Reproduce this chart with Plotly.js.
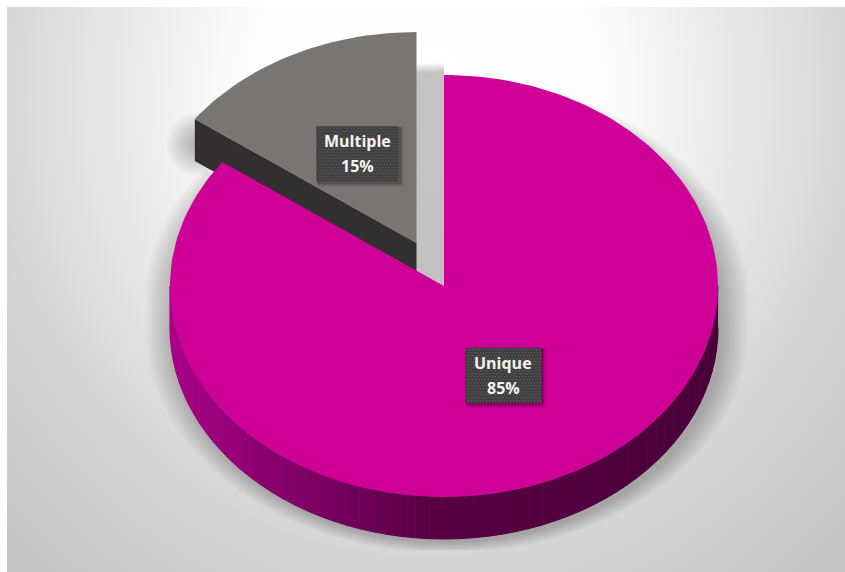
<!DOCTYPE html>
<html>
<head>
<meta charset="utf-8">
<script src="https://cdn.plot.ly/plotly-3.0.1.min.js"></script>
<style>
  html, body { margin: 0; padding: 0; background: #fff; width: 845px; height: 572px; overflow: hidden; }
  #backdrop {
    position: absolute; left: 7px; top: 7px; width: 838px; height: 565px;
    background: radial-gradient(ellipse 600px 640px at 418px 93px,
      #ffffff 0%, #fdfdfd 30%, #d5d5d5 72%, #c4c4c4 100%);
  }
  #chart { position: absolute; left: 0; top: 0; width: 845px; height: 572px; }
</style>
</head>
<body>
<div id="backdrop"></div>
<div id="chart"></div>
<script>
// Share of records by match type
const categories = ['Unique', 'Multiple'];
const shares = [85, 15];

// Ellipse geometry of the tilted disc, in screen pixels
const RX = 274, RY = 211, CX = 444, CY = 286, DEPTH_PX = 42;
const FRAME = { left: 7, right: 845, top: 7, bottom: 550 };
// The axes are scaled so the disc has radius 1 in data units
const sx = px => px / RX;
const sy = px => px / RY;
const DEPTH = sy(DEPTH_PX);
const PULL = { Multiple: [sx(-27.5), sy(43)], Unique: [0, 0] };
const LABEL_R = 0.475;

const TOP_COLORS = { Unique: '#cf0098', Multiple: '#787574' };
const CUT_COLOR = { Multiple: '#312f2f' };
const WALL_STOPS = [[-1, [170, 0, 135]], [-0.55, [130, 0, 104]], [-0.05, [88, 0, 66]], [1, [74, 0, 56]]];

const toRad = d => d * Math.PI / 180;
const pt = (deg, r = 1, ox = 0, oy = 0) => [ox + r * Math.sin(toRad(deg)), oy + r * Math.cos(toRad(deg))];

function wallColor(u) {
  for (let i = 1; i < WALL_STOPS.length; i++) {
    const [a, ca] = WALL_STOPS[i - 1], [b, cb] = WALL_STOPS[i];
    if (u <= b) {
      const t = Math.max(0, (u - a) / (b - a));
      return 'rgb(' + ca.map((c, k) => Math.round(c + (cb[k] - c) * t)).join(',') + ')';
    }
  }
  return 'rgb(74,0,56)';
}

function poly(points, color, lineColor) {
  return {
    type: 'scatter', mode: 'lines', x: points.map(p => p[0]), y: points.map(p => p[1]),
    fill: 'toself', fillcolor: color, hoverinfo: 'skip',
    line: { width: lineColor ? 1 : 0, color: lineColor || color }
  };
}

function arc(a0, a1, r, ox, oy, step = 1.5) {
  const out = [];
  const n = Math.max(2, Math.ceil(Math.abs(a1 - a0) / step));
  for (let i = 0; i <= n; i++) out.push(pt(a0 + (a1 - a0) * i / n, r, ox, oy));
  return out;
}

// Angular span of each slice, clockwise from twelve o'clock
const total = shares.reduce((a, b) => a + b, 0);
let running = 0;
const slices = categories.map((name, i) => {
  const a0 = running / total * 360;
  running += shares[i];
  return { name, share: shares[i], a0, a1: running / total * 360 };
});
const main = slices[0], pulled = slices[1];

const traces = [];

// Soft drop shadow under the main slice: stacked translucent outlines
function discShadow(grow) {
  const pts = [];
  const ex = sx(grow), top = sy(grow * 0.42), low = sy(grow * 0.44);
  for (let d = main.a0; d <= main.a1; d += 3) {
    const s = Math.sin(toRad(d)), c = Math.cos(toRad(d));
    const front = c < 0;
    pts.push([sx(3) + (1 + ex) * s,
      (front ? -DEPTH - sy(2) : -sy(14)) + (front ? 1 + low : 1 + top) * c]);
  }
  pts.push([sx(3), -sy(14)]);
  return pts;
}
for (let g = 28; g >= 1; g -= 1) traces.push(poly(discShadow(g), 'rgba(60,60,60,0.0125)'));

// Shadow left in the gap where the pulled slice used to sit
for (let k = 0; k < 6; k++) {
  const r = 1.055 - k * 0.008;
  traces.push(poly([[0, 0], ...arc(main.a1, 360, r, 0, 0)], 'rgba(40,40,40,0.05)'));
}

// Blurred shadow beside the outer corner of the pulled slice
const [px, py] = PULL.Multiple;
const rim = pt(pulled.a0, 1, px, py);
for (let g = 32; g >= 2; g -= 2) {
  const blob = [];
  for (let d = 0; d < 360; d += 10) {
    blob.push([rim[0] + sx(4) + sx(g) * Math.sin(toRad(d)),
      rim[1] - DEPTH * 0.6 + sy(g) * Math.cos(toRad(d))]);
  }
  traces.push(poly(blob, 'rgba(30,30,30,0.022)'));
}

// Pulled slice: cut face, then top
traces.push(poly([[px, py], rim, [rim[0], rim[1] - DEPTH], [px, py - DEPTH]], CUT_COLOR.Multiple));
traces.push(poly([[px, py], ...arc(pulled.a0, pulled.a1, 1, px, py)], TOP_COLORS.Multiple));

// Main slice: outer wall in narrow shaded bands from the right rim to the left rim
for (let d = 90; d < 270; d += 3) {
  const a = pt(d), b = pt(d + 3);
  const c = wallColor((a[0] + b[0]) / 2);
  traces.push(poly([a, b, [b[0], b[1] - DEPTH], [a[0], a[1] - DEPTH]], c, c));
}
traces.push(poly([[0, 0], ...arc(main.a0, main.a1, 1, 0, 0)], TOP_COLORS.Unique));

// Label plates with a dotted texture and a small shadow
const PLATE = { Unique: [76, 55], Multiple: [82, 55] };
const annotations = [];
slices.forEach(s => {
  const mid = (s.a0 + s.a1) / 2;
  const [ox, oy] = PULL[s.name];
  const c = pt(mid, LABEL_R, ox, oy);
  const [w, h] = PLATE[s.name];
  const hw = sx(w / 2), hh = sy(h / 2);
  const rect = (dx, dy, gx, gy) => [
    [c[0] - hw + sx(dx - gx), c[1] - hh - sy(dy + gy)], [c[0] + hw + sx(dx + gx), c[1] - hh - sy(dy + gy)],
    [c[0] + hw + sx(dx + gx), c[1] + hh - sy(dy - gy)], [c[0] - hw + sx(dx - gx), c[1] + hh - sy(dy - gy)]
  ];
  traces.push(poly(rect(3, 3, 2, 2), 'rgba(0,0,0,0.12)'));
  traces.push(poly(rect(2, 2, 1, 1), 'rgba(0,0,0,0.2)'));
  traces.push(poly(rect(0, 0, 0, 0), '#3f3f3f'));
  const dx = [], dy = [];
  for (let i = 2; i < w; i += 3) for (let j = 2; j < h; j += 3) {
    dx.push(c[0] - hw + sx(i + (j % 2 ? 1.5 : 0)));
    dy.push(c[1] + hh - sy(j));
  }
  traces.push({ type: 'scatter', mode: 'markers', x: dx, y: dy, hoverinfo: 'skip',
    marker: { size: 1.4, color: 'rgba(125,125,125,0.55)', line: { width: 0 } } });
  // Name and percentage are set as two lines with open leading
  const labelFont = { family: 'Open Sans, Noto Sans, sans-serif', size: 16, color: '#f4f4f4' };
  [[s.name, -12.5], [Math.round(s.share / total * 100) + '%', 12.5]].forEach(([line, drop]) => {
    annotations.push({
      x: c[0], y: c[1], xref: 'x', yref: 'y', showarrow: false, yshift: -drop,
      text: '<b>' + line + '</b>', font: labelFont
    });
  });
});

Plotly.newPlot('chart', traces, {
  width: 845, height: 572, autosize: false, showlegend: false,
  margin: { l: FRAME.left, r: 845 - FRAME.right, t: FRAME.top, b: 572 - FRAME.bottom, pad: 0 },
  paper_bgcolor: 'rgba(0,0,0,0)', plot_bgcolor: 'rgba(0,0,0,0)',
  xaxis: { visible: false, fixedrange: true, range: [sx(FRAME.left - CX), sx(FRAME.right - CX)] },
  yaxis: { visible: false, fixedrange: true, range: [sy(CY - FRAME.bottom), sy(CY - FRAME.top)] },
  annotations
}, { displayModeBar: false, staticPlot: true });
</script>
</body>
</html>
